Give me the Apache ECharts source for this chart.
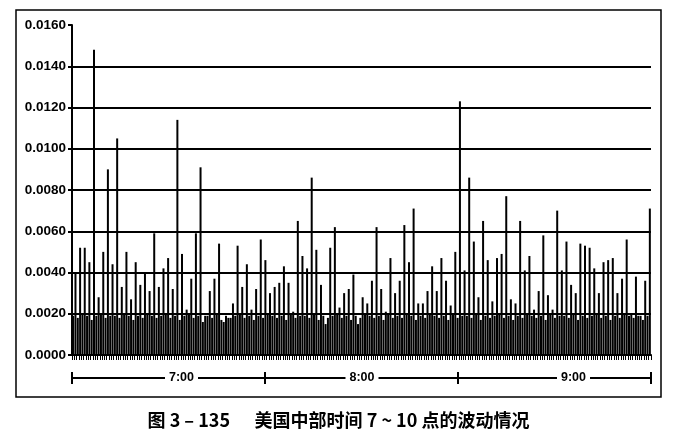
<!DOCTYPE html>
<html>
<head>
<meta charset="utf-8">
<script src="https://cdn.jsdelivr.net/npm/echarts@6/dist/echarts.min.js"></script>
<style>
html,body{margin:0;padding:0;background:#fff;}
#chart{width:677px;height:444px;}
</style>
</head>
<body>
<div id="chart"></div>
<script>
// Hour labels of the time line below the chart
var hourLabels = ["7:00", "8:00", "9:00"];
var yTickLabels = ["0.0000","0.0020","0.0040","0.0060","0.0080","0.0100","0.0120","0.0140","0.0160"];
var captionText = "图 3 – 135      美国中部时间 7 ~ 10 点的波动情况";

// Taller bars (every other bar), read left to right
var peakValues = [
  0.0040,0.0052,0.0052,0.0045,0.0148,0.0028,0.0050,0.0090,0.0044,0.0105,
  0.0033,0.0050,0.0027,0.0045,0.0034,0.0040,0.0031,0.0059,0.0033,0.0042,
  0.0047,0.0032,0.0114,0.0049,0.0022,0.0037,0.0059,0.0091,0.0019,0.0031,
  0.0037,0.0054,0.0016,0.0018,0.0025,0.0053,
  0.0033,0.0044,0.0022,0.0032,0.0056,0.0046,0.0030,0.0033,0.0035,0.0043,
  0.0035,0.0021,0.0065,0.0048,0.0042,0.0086,0.0051,0.0034,0.0015,0.0052,
  0.0062,0.0023,0.0030,0.0032,0.0039,0.0015,0.0028,0.0025,0.0036,0.0062,
  0.0032,0.0021,0.0047,0.0030,0.0036,0.0063,0.0045,0.0071,0.0025,0.0025,
  0.0031,0.0043,0.0031,0.0047,0.0036,0.0024,0.0050,
  0.0123,0.0041,0.0086,0.0055,0.0028,0.0065,0.0046,0.0026,0.0047,0.0049,
  0.0077,0.0027,0.0025,0.0065,0.0041,0.0048,0.0022,0.0031,0.0058,0.0029,
  0.0022,0.0070,0.0041,0.0055,0.0034,0.0030,0.0054,0.0053,0.0052,0.0042,
  0.0030,0.0045,0.0046,0.0047,0.0030,0.0037,0.0056,0.0020,0.0038,0.0019,
  0.0036,0.0071
];

// Short bars lying between the taller ones
var baseValues = [
  0.0019,0.0018,0.0020,0.0019,0.0017,0.0019,0.0020,0.0018,0.0019,0.0019,
  0.0018,0.0020,0.0019,0.0017,0.0019,0.0018,0.0020,0.0019,0.0018,0.0019,
  0.0020,0.0018,0.0019,0.0017,0.0019,0.0020,0.0018,0.0019,0.0016,0.0019,
  0.0018,0.0020,0.0017,0.0019,0.0018,0.0019,0.0020,0.0018,0.0019,0.0017,
  0.0019,0.0018,0.0020,0.0019,0.0018,0.0019,0.0017,0.0020,0.0018,0.0019,
  0.0019,0.0018,0.0020,0.0017,0.0019,0.0018,0.0019,0.0020,0.0018,0.0019,
  0.0017,0.0019,0.0018,0.0020,0.0019,0.0018,0.0019,0.0017,0.0020,0.0018,
  0.0019,0.0018,0.0020,0.0019,0.0017,0.0019,0.0018,0.0020,0.0019,0.0018,
  0.0019,0.0017,0.0020,0.0018,0.0019,0.0019,0.0018,0.0020,0.0017,0.0019,
  0.0018,0.0019,0.0020,0.0018,0.0019,0.0017,0.0019,0.0018,0.0020,0.0019,
  0.0018,0.0019,0.0017,0.0020,0.0018,0.0019,0.0019,0.0018,0.0020,0.0017,
  0.0019,0.0018,0.0019,0.0020,0.0018,0.0019,0.0017,0.0019,0.0018,0.0020,
  0.0019,0.0018,0.0019,0.0017,0.0019
];

// Interleave: short bar, tall bar, short bar, tall bar ...
var barValues = [];
var slots = [];
for (var i = 0; i < peakValues.length; i++) {
  barValues.push(baseValues[i]);
  barValues.push(peakValues[i]);
  slots.push('s' + (2 * i));
  slots.push('s' + (2 * i + 1));
}

var chart = echarts.init(document.getElementById('chart'), null, {renderer: 'canvas'});
var labelFont = 'Liberation Sans, Arial, sans-serif';
var hourShift = [26, 0, 38];
var hourRich = {
  h: {padding: [0, 4, 0, 4], backgroundColor: '#fff', color: '#000', fontWeight: 'bold', fontSize: 12.5, fontFamily: labelFont},
  sp0: {width: hourShift[0], fontSize: 12},
  sp1: {width: 1, fontSize: 12},
  sp2: {width: hourShift[2], fontSize: 12}
};

chart.setOption({
  animation: false,
  backgroundColor: '#fff',
  title: {
    text: captionText,
    left: 'center',
    top: 406,
    textStyle: {fontSize: 18, fontWeight: 'bold', color: '#000', fontFamily: 'Noto Sans CJK SC'}
  },
  graphic: [{
    type: 'rect',
    shape: {x: 16, y: 10, width: 645, height: 387},
    style: {fill: 'none', stroke: '#000', lineWidth: 1.5},
    silent: true
  }],
  grid: {left: 72, right: 26, top: 25, bottom: 89, containLabel: false},
  xAxis: [
    {
      type: 'category',
      data: slots,
      position: 'bottom',
      boundaryGap: true,
      axisLine: {show: true, lineStyle: {color: '#000', width: 2}},
      axisTick: {show: true, interval: 0, length: 5, lineStyle: {color: '#000', width: 1}},
      axisLabel: {show: false},
      splitLine: {show: false}
    },
    {
      type: 'category',
      data: hourLabels,
      position: 'bottom',
      offset: 23,
      boundaryGap: true,
      axisLine: {show: true, lineStyle: {color: '#000', width: 2}},
      axisTick: {show: true, length: 6, inside: false, lineStyle: {color: '#000', width: 2}},
      axisLabel: {
        show: true, margin: 0, verticalAlign: 'middle',
        formatter: function (v, idx) { return '{sp' + idx + '| }{h|' + v + '}'; },
        rich: hourRich
      },
      splitLine: {show: false}
    },
    {
      type: 'category',
      data: hourLabels,
      position: 'bottom',
      offset: 23,
      boundaryGap: true,
      axisLine: {show: false},
      axisTick: {show: true, length: 6, inside: true, lineStyle: {color: '#000', width: 2}},
      axisLabel: {show: false},
      splitLine: {show: false}
    }
  ],
  yAxis: {
    type: 'value',
    min: 0,
    max: 0.016,
    interval: 0.002,
    axisLine: {show: true, lineStyle: {color: '#000', width: 2}},
    axisTick: {show: true, length: 4, lineStyle: {color: '#000', width: 2}},
    axisLabel: {
      margin: 6,
      color: '#000',
      fontSize: 13.5,
      fontWeight: 'bold',
      fontFamily: labelFont,
      formatter: function (v) { return yTickLabels[Math.round(v / 0.002)]; }
    },
    splitLine: {show: true, showMaxLine: false, lineStyle: {color: '#000', width: 2}}
  },
  series: [{
    type: 'bar',
    xAxisIndex: 0,
    data: barValues,
    barWidth: 2,
    itemStyle: {color: '#000'},
    silent: true
  }]
});
</script>
</body>
</html>
